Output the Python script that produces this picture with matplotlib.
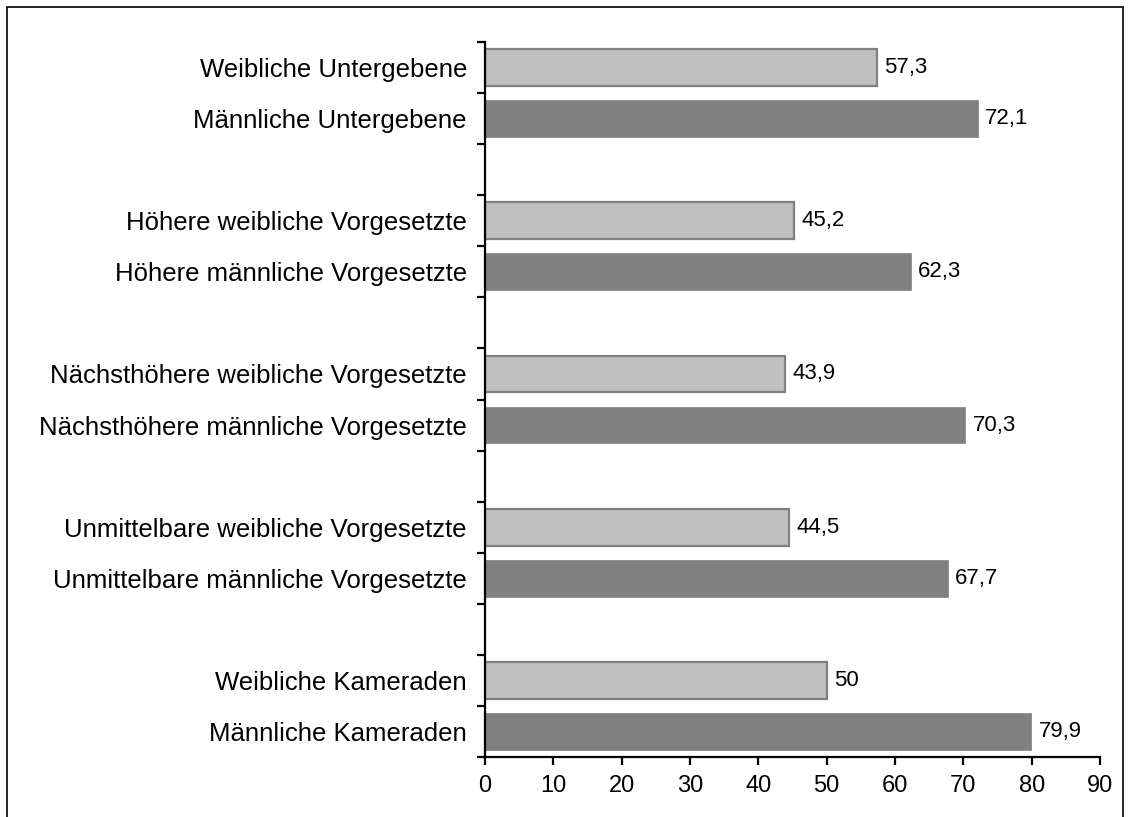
import matplotlib
matplotlib.use("Agg")
import matplotlib.pyplot as plt
from matplotlib.patches import Rectangle

plt.rcParams["font.family"] = ["Liberation Sans", "DejaVu Sans"]

# Groups listed top to bottom; each group has a female and a male bar
groups = ["Untergebene", "Höhere", "Nächsthöhere", "Unmittelbare", "Kameraden"]
female_labels = [
    "Weibliche Untergebene",
    "Höhere weibliche Vorgesetzte",
    "Nächsthöhere weibliche Vorgesetzte",
    "Unmittelbare weibliche Vorgesetzte",
    "Weibliche Kameraden",
]
male_labels = [
    "Männliche Untergebene",
    "Höhere männliche Vorgesetzte",
    "Nächsthöhere männliche Vorgesetzte",
    "Unmittelbare männliche Vorgesetzte",
    "Männliche Kameraden",
]
female_values = [57.3, 45.2, 43.9, 44.5, 50.0]
male_values = [72.1, 62.3, 70.3, 67.7, 79.9]
x_ticks = [0, 10, 20, 30, 40, 50, 60, 70, 80, 90]

LIGHT = "#c0c0c0"
DARK = "#808080"


def fmt(v):
    s = f"{v:.1f}".replace(".", ",")
    return s[:-2] if s.endswith(",0") else s


fig = plt.figure(figsize=(11.31, 8.17), dpi=100)
ax = fig.add_axes([0.4288, 0.0734, 0.9726 - 0.4288, 0.9486 - 0.0734])

# Slot layout: 3 slots per group (female, male, gap), last group has no gap
n_groups = len(groups)
n_slots = n_groups * 3 - 1
bar_h = 0.72

label_pos = []
label_txt = []
for i in range(n_groups):
    top_slot = n_slots - 1 - 3 * i
    yf = top_slot
    ym = top_slot - 1
    ax.barh(yf, female_values[i], height=bar_h, color=LIGHT,
            edgecolor=DARK, linewidth=1.6, zorder=2)
    ax.barh(ym, male_values[i], height=bar_h, color=DARK,
            edgecolor=DARK, linewidth=0.5, zorder=2)
    for y, v in ((yf, female_values[i]), (ym, male_values[i])):
        ax.annotate(fmt(v), xy=(v, y), xytext=(5.5, 0),
                    textcoords="offset points", ha="left", va="center",
                    fontsize=16, color="black")
    label_pos += [yf, ym]
    label_txt += [female_labels[i], male_labels[i]]

ax.set_xlim(0, 90)
ax.set_ylim(-0.5, n_slots - 0.5)
ax.set_xticks(x_ticks)
ax.set_xticklabels([str(t) for t in x_ticks], fontsize=17)

# Major ticks at slot boundaries, category labels on minor ticks
ax.set_yticks([k - 0.5 for k in range(n_slots + 1)])
ax.set_yticklabels([])
ax.set_yticks(label_pos, minor=True)
ax.set_yticklabels(label_txt, minor=True, fontsize=18.5)

ax.tick_params(axis="y", which="major", direction="out", length=6, width=1.6)
ax.tick_params(axis="y", which="minor", length=0, pad=13)
ax.tick_params(axis="x", which="major", direction="out", length=6, width=1.6,
               pad=7)

for side in ("top", "right"):
    ax.spines[side].set_visible(False)
for side in ("left", "bottom"):
    ax.spines[side].set_linewidth(1.6)
    ax.spines[side].set_color("black")

# Chart area frame (bottom edge runs past the image)
fig.patches.append(Rectangle((7 / 1131, -0.05), (1123 - 7) / 1131,
                             1 - 7 / 817 + 0.05, transform=fig.transFigure,
                             fill=False, edgecolor="black", linewidth=1.2,
                             clip_on=False))

fig.savefig("out.png", dpi=100)
